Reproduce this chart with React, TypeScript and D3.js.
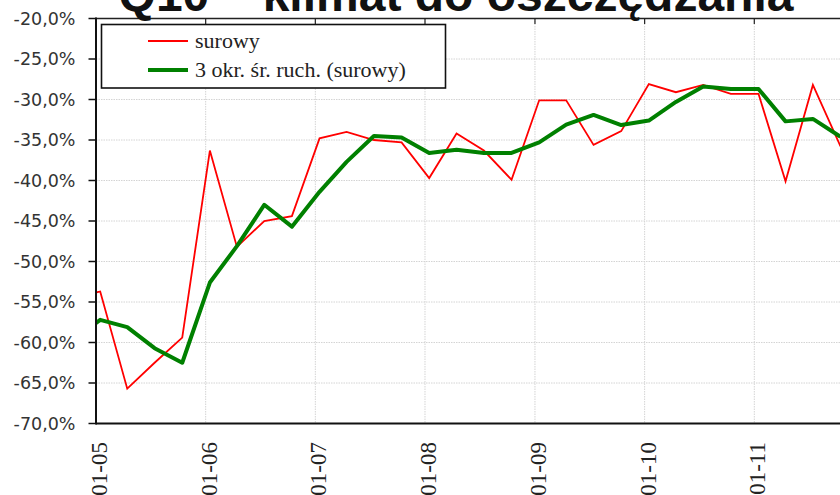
import { useEffect, useRef } from 'react';
import * as d3 from 'd3';

// quarterly survey dates (mid-month), first point sits left of the visible axis
const quarters = [
  '2004-10-15',
  '2005-01-15', '2005-04-15', '2005-07-15', '2005-10-15',
  '2006-01-15', '2006-04-15', '2006-07-15', '2006-10-15',
  '2007-01-15', '2007-04-15', '2007-07-15', '2007-10-15',
  '2008-01-15', '2008-04-15', '2008-07-15', '2008-10-15',
  '2009-01-15', '2009-04-15', '2009-07-15', '2009-10-15',
  '2010-01-15', '2010-04-15', '2010-07-15', '2010-10-15',
  '2011-01-15', '2011-04-15', '2011-07-15', '2011-10-15',
];

const surowy = [
  -54.5,
  -53.7, -65.7, -62.5, -59.4,
  -36.3, -48.2, -45.0, -44.4,
  -34.8, -34.0, -35.0, -35.3,
  -39.7, -34.2, -36.3, -39.9,
  -30.1, -30.1, -35.6, -33.9,
  -28.1, -29.1, -28.2, -29.3,
  -29.3, -40.1, -28.2, -35.8,
];

const srednia = [
  -59.7,
  -57.2, -58.1, -60.7, -62.5,
  -52.6, -48.1, -43.0, -45.7,
  -41.4, -37.7, -34.5, -34.7,
  -36.6, -36.2, -36.6, -36.6,
  -35.3, -33.1, -31.9, -33.15,
  -32.6, -30.3, -28.4, -28.7,
  -28.7, -32.7, -32.4, -34.6,
];

const yTicks = [-70, -65, -60, -55, -50, -45, -40, -35, -30, -25, -20];
const xTickDates = ['2005-01-01', '2006-01-01', '2007-01-01', '2008-01-01', '2009-01-01', '2010-01-01', '2011-01-01'];
const xTickLabels = ['01-05', '01-06', '01-07', '01-08', '01-09', '01-10', '01-11'];

const seriesNames = ['surowy', '3 okr. śr. ruch. (surowy)'];
const title = 'Q10 – klimat do oszczędzania';

const App = () => {
  const chartRef = useRef<SVGSVGElement>(null);

  useEffect(() => {
    if (!chartRef.current) return;
    d3.select(chartRef.current).selectAll('*').remove();

    const width = 840;
    const height = 495;
    const left = 96;
    const top = 18.5;
    const bottom = 423.5;
    const right = width + 10;

    const svg = d3.select(chartRef.current).attr('width', width).attr('height', height);

    const parse = (s: string) => new Date(s + 'T00:00:00Z');

    const x = d3
      .scaleUtc()
      .domain([parse('2005-01-01'), parse('2011-01-01')])
      .range([left, 754.3]);
    const y = d3.scaleLinear().domain([-70, -20]).range([bottom, top]);

    svg.append('rect').attr('width', width).attr('height', height).attr('fill', '#fff');

    // grid
    const grid = svg.append('g').attr('stroke', '#d4d4d4').attr('stroke-width', 1).attr('stroke-dasharray', '1.5 1');
    grid
      .selectAll('line.h')
      .data(yTicks.slice(1, -1))
      .join('line')
      .attr('x1', left)
      .attr('x2', right)
      .attr('y1', (d) => y(d))
      .attr('y2', (d) => y(d));
    grid
      .selectAll('line.v')
      .data(xTickDates.slice(1))
      .join('line')
      .attr('x1', (d) => x(parse(d)))
      .attr('x2', (d) => x(parse(d)))
      .attr('y1', top)
      .attr('y2', bottom);

    // series, clipped to plot area
    svg
      .append('clipPath')
      .attr('id', 'plot-clip')
      .append('rect')
      .attr('x', left)
      .attr('y', top)
      .attr('width', right - left)
      .attr('height', bottom - top);

    const line = d3
      .line<number>()
      .x((_, i) => x(parse(quarters[i])))
      .y((d) => y(d));

    const plot = svg.append('g').attr('clip-path', 'url(#plot-clip)');
    plot
      .append('path')
      .datum(surowy)
      .attr('fill', 'none')
      .attr('stroke', '#ff0000')
      .attr('stroke-width', 1.8)
      .attr('stroke-linejoin', 'miter')
      .attr('d', line);
    plot
      .append('path')
      .datum(srednia)
      .attr('fill', 'none')
      .attr('stroke', '#008000')
      .attr('stroke-width', 4)
      .attr('stroke-linejoin', 'round')
      .attr('d', line);

    // frame: top border with small ticks, left axis, bottom axis
    svg.append('line').attr('x1', left).attr('x2', right).attr('y1', top).attr('y2', top).attr('stroke', '#222').attr('stroke-width', 1.5);
    svg
      .selectAll('line.topTick')
      .data(xTickDates.slice(1))
      .join('line')
      .attr('x1', (d) => x(parse(d)))
      .attr('x2', (d) => x(parse(d)))
      .attr('y1', top)
      .attr('y2', top + 5.5)
      .attr('stroke', '#222')
      .attr('stroke-width', 1.2);

    svg.append('line').attr('x1', left).attr('x2', right).attr('y1', bottom).attr('y2', bottom).attr('stroke', '#111').attr('stroke-width', 2);
    svg.append('line').attr('x1', left).attr('x2', left).attr('y1', top - 1).attr('y2', bottom + 1).attr('stroke', '#111').attr('stroke-width', 2);

    const yAxis = svg.append('g');
    yAxis
      .selectAll('line')
      .data(yTicks)
      .join('line')
      .attr('x1', left - 7.5)
      .attr('x2', left)
      .attr('y1', (d) => y(d))
      .attr('y2', (d) => y(d))
      .attr('stroke', '#111')
      .attr('stroke-width', 1.5);
    yAxis
      .selectAll('text')
      .data(yTicks)
      .join('text')
      .attr('x', 75.5)
      .attr('y', (d) => y(d))
      .attr('dy', '0.36em')
      .attr('text-anchor', 'end')
      .attr('font-family', 'DejaVu Sans')
      .attr('font-size', 17.5)
      .attr('fill', '#333')
      .text((d) => `${d.toFixed(1).replace('.', ',')}%`);

    svg
      .append('g')
      .selectAll('text')
      .data(xTickDates)
      .join('text')
      .attr('transform', (d) => `translate(${x(parse(d)) + 3},${bottom + 18.5}) rotate(-90)`)
      .attr('dy', '0.35em')
      .attr('text-anchor', 'end')
      .attr('font-family', 'Liberation Serif')
      .attr('font-size', 23)
      .attr('fill', '#222')
      .text((_, i) => xTickLabels[i]);

    // legend
    const legend = svg.append('g');
    legend
      .append('rect')
      .attr('x', 101.5)
      .attr('y', 24.5)
      .attr('width', 344)
      .attr('height', 63.5)
      .attr('fill', '#fff')
      .attr('stroke', '#111')
      .attr('stroke-width', 1.6);
    const legendRows = [
      { name: seriesNames[0], color: '#ff0000', w: 1.8, cy: 41 },
      { name: seriesNames[1], color: '#008000', w: 4, cy: 70 },
    ];
    legendRows.forEach((r) => {
      legend.append('line').attr('x1', 148).attr('x2', 188).attr('y1', r.cy).attr('y2', r.cy).attr('stroke', r.color).attr('stroke-width', r.w);
      legend
        .append('text')
        .attr('x', 195)
        .attr('y', r.cy)
        .attr('dy', '0.3em')
        .attr('font-family', 'Liberation Serif')
        .attr('font-size', 22)
        .attr('fill', '#222')
        .text(r.name);
    });

    // title, mostly cropped off the top as in the source image
    svg
      .append('text')
      .attr('x', 456)
      .attr('y', 11)
      .attr('text-anchor', 'middle')
      .attr('font-family', 'Liberation Sans')
      .attr('font-weight', 'bold')
      .attr('font-size', 48)
      .attr('fill', '#111')
      .text(title);
  }, []);

  return <svg ref={chartRef} style={{ position: 'absolute', left: 0, top: 0, display: 'block' }} />;
};

export default App;
